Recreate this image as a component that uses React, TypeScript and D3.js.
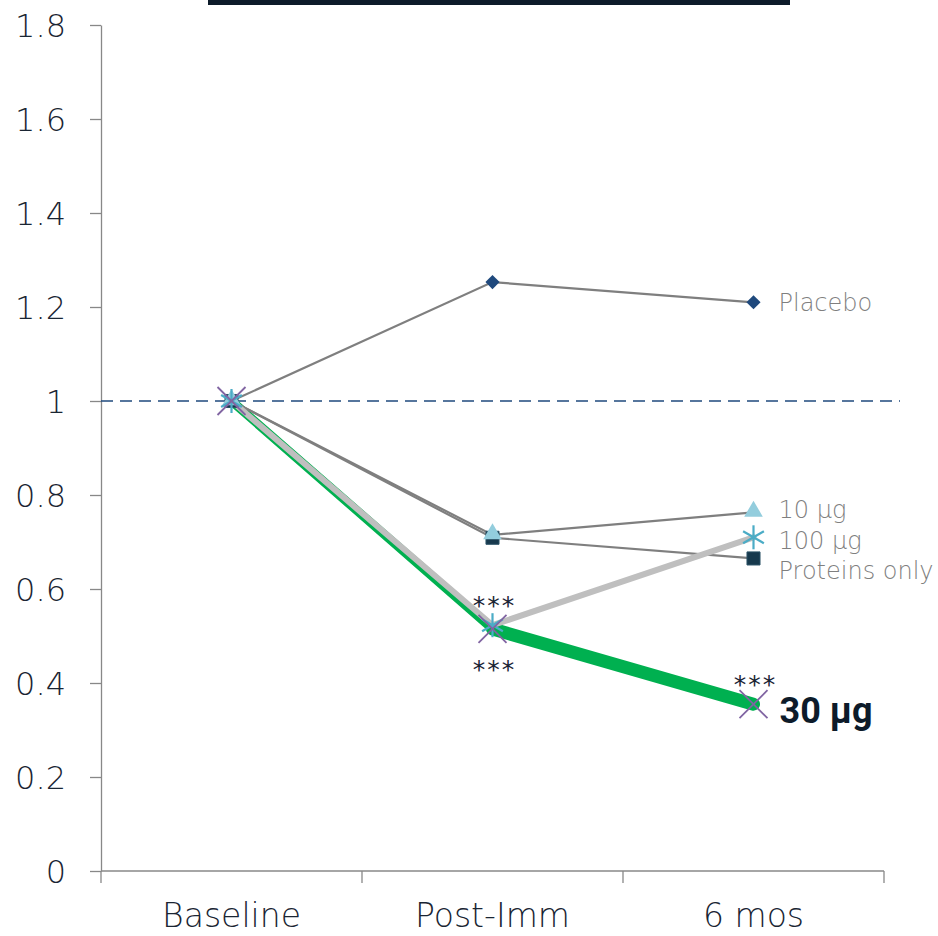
import React, { useEffect, useRef } from 'react';
import * as d3 from 'd3';

const categories = ['Baseline', 'Post-Imm', '6 mos'];
const yTicks = [0, 0.2, 0.4, 0.6, 0.8, 1, 1.2, 1.4, 1.6, 1.8];

const placebo = [1, 1.253, 1.21];
const tenUg = [1, 0.715, 0.763];
const proteinsOnly = [1, 0.709, 0.665];
const hundredUg = [1, 0.523, 0.71];
const thirtyUg = [1, 0.515, 0.355];

const starsAbove = [[1, 0.523], [2, 0.355]];
const starsBelow = [[1, 0.523]];

export default function App() {
  const svgRef = useRef(null);

  useEffect(() => {
    const width = 938;
    const height = 936;
    const svg = d3.select(svgRef.current);
    svg.selectAll('*').remove();

    const font = '"DejaVu Sans", sans-serif';
    const left = 101, right = 884, top = 25, bottom = 871;

    const x = d3.scaleBand().domain(categories).range([left, right]);
    const y = d3.scaleLinear().domain([0, 1.8]).range([bottom, top]);
    const cx = (i) => x(categories[i]) + x.bandwidth() / 2;

    // cut-off title underline
    svg.append('rect').attr('x', 208).attr('y', 0).attr('width', 582).attr('height', 5).attr('fill', '#0d1b2a');

    // y axis
    const yAxis = svg.append('g').attr('transform', `translate(${left},0)`)
      .call(d3.axisLeft(y).tickValues(yTicks).tickSize(11).tickSizeOuter(0).tickFormat(d3.format('~g')));
    yAxis.select('.domain').attr('stroke', '#888').attr('stroke-width', 1.3);
    yAxis.selectAll('line').attr('stroke', '#888').attr('stroke-width', 1.3);
    yAxis.selectAll('text').attr('font-family', font).attr('font-weight', 200).attr('font-size', 32)
      .attr('fill', '#1a2533').attr('x', -35).attr('dy', '0.36em');

    // x axis
    const xAxis = svg.append('g').attr('transform', `translate(0,${bottom})`)
      .call(d3.axisBottom(x).tickSize(0));
    xAxis.select('.domain').remove();
    xAxis.append('line').attr('x1', left).attr('x2', right).attr('stroke', '#888').attr('stroke-width', 1.3);
    const bounds = [left, ...categories.map(c => x(c) + x.bandwidth())];
    bounds.forEach(b => xAxis.append('line').attr('x1', b).attr('x2', b).attr('y1', 0).attr('y2', 12).attr('stroke', '#888').attr('stroke-width', 1.3));
    xAxis.selectAll('text').attr('font-family', font).attr('font-weight', 200).attr('font-size', 33)
      .attr('fill', '#1a2533').attr('y', 56).attr('dy', 0);

    // reference line at 1
    svg.append('line').attr('x1', left).attr('x2', 900).attr('y1', y(1)).attr('y2', y(1))
      .attr('stroke', '#1f497d').attr('stroke-width', 1.6).attr('stroke-dasharray', '12,7');

    const line = d3.line().x((d, i) => cx(i)).y(d => y(d));
    const seg = (vals, a, b) => [[cx(a), y(vals[a])], [cx(b), y(vals[b])]];

    // green 30 ug
    svg.append('path').attr('d', d3.line()(seg(thirtyUg, 0, 1))).attr('stroke', '#00b050').attr('stroke-width', 9).attr('fill', 'none').attr('stroke-linecap', 'round');
    svg.append('path').attr('d', d3.line()(seg(thirtyUg, 1, 2))).attr('stroke', '#00b050').attr('stroke-width', 13).attr('fill', 'none').attr('stroke-linecap', 'round');

    // gray thin lines
    [placebo, tenUg, proteinsOnly].forEach(vals => {
      svg.append('path').attr('d', line(vals)).attr('stroke', '#7f7f7f').attr('stroke-width', 2.2).attr('fill', 'none');
    });

    // 100 ug thick light gray
    svg.append('path').attr('d', line(hundredUg)).attr('stroke', '#bfbfbf').attr('stroke-width', 6).attr('fill', 'none').attr('stroke-linecap', 'round');

    // markers
    const sq = d3.symbol().type(d3.symbolSquare).size(100);
    placebo.forEach((v, i) => {
      svg.append('path').attr('d', sq()).attr('transform', `translate(${cx(i)},${y(v)}) rotate(45)`).attr('fill', '#1f497d');
    });
    const square = d3.symbol().type(d3.symbolSquare).size(170);
    proteinsOnly.forEach((v, i) => {
      svg.append('path').attr('d', square()).attr('transform', `translate(${cx(i)},${y(v)})`).attr('fill', '#17394d').attr('stroke', '#2b5266').attr('stroke-width', 1);
    });
    const tri = d3.symbol().type(d3.symbolTriangle).size(150);
    tenUg.forEach((v, i) => {
      svg.append('path').attr('d', tri()).attr('transform', `translate(${cx(i)},${y(v) - 1})`).attr('fill', '#93cddd');
    });
    hundredUg.forEach((v, i) => {
      const g = svg.append('g').attr('transform', `translate(${cx(i)},${y(v)})`);
      const r = 12;
      [0, 60, 120].forEach(a => {
        const rad = (a + 90) * Math.PI / 180;
        g.append('line').attr('x1', -r * Math.cos(rad)).attr('y1', -r * Math.sin(rad)).attr('x2', r * Math.cos(rad)).attr('y2', r * Math.sin(rad))
          .attr('stroke', '#4bacc6').attr('stroke-width', 2.2);
      });
    });
    thirtyUg.forEach((v, i) => {
      const g = svg.append('g').attr('transform', `translate(${cx(i)},${y(v)})`);
      const r = 14;
      g.append('line').attr('x1', -r).attr('y1', -r).attr('x2', r).attr('y2', r).attr('stroke', '#8064a2').attr('stroke-width', 1.8);
      g.append('line').attr('x1', -r).attr('y1', r).attr('x2', r).attr('y2', -r).attr('stroke', '#8064a2').attr('stroke-width', 1.8);
    });

    // significance stars
    const stars = (i, v, off) => svg.append('text').attr('x', cx(i) + 2).attr('y', y(v) + off).attr('text-anchor', 'middle')
      .attr('font-family', font).attr('font-size', 25).attr('letter-spacing', 2).attr('fill', '#1a2533').text('***');
    starsAbove.forEach(([i, v]) => stars(i, v, -11));
    starsBelow.forEach(([i, v]) => stars(i, v, 53));

    // series labels
    const labels = [
      { text: 'Placebo', v: placebo[2], dy: 0 },
      { text: '10 µg', v: tenUg[2], dy: -3 },
      { text: '100 µg', v: hundredUg[2], dy: 3 },
      { text: 'Proteins only', v: proteinsOnly[2], dy: 12 },
    ];
    labels.forEach(l => {
      svg.append('text').attr('x', cx(2) + 25).attr('y', y(l.v) + l.dy).attr('dy', '0.36em')
        .attr('font-family', font).attr('font-weight', 200).attr('font-size', 24).attr('fill', '#7f7f7f').text(l.text);
    });
    svg.append('text').attr('x', cx(2) + 26).attr('y', y(thirtyUg[2]) + 6).attr('dy', '0.36em')
      .attr('font-family', 'Roboto, sans-serif').attr('font-size', 36).attr('font-weight', 700).attr('fill', '#0d1b2a').text('30 µg');

    svg.attr('width', width).attr('height', height);
  }, []);

  return (
    <div style={{ position: 'absolute', left: 0, top: 0, width: 938, height: 936, background: '#fff' }}>
      <svg ref={svgRef} style={{ display: 'block' }}></svg>
    </div>
  );
}
